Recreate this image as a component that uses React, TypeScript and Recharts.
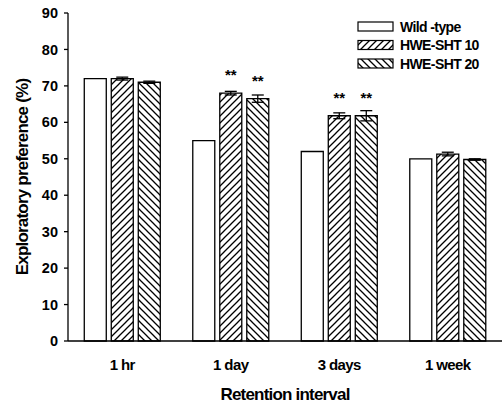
import React from 'react';
import { BarChart, Bar, XAxis, YAxis, ErrorBar, LabelList } from 'recharts';

const categories = ['1 hr', '1 day', '3 days', '1 week'];
const wildType = [72, 55, 52, 50];
const hwe10 = [72, 68, 61.8, 51.3];
const hwe20 = [71, 66.5, 61.8, 49.8];
const hwe10Err = [0.4, 0.5, 0.8, 0.5];
const hwe20Err = [0.3, 1.0, 1.4, 0.2];
const sig10 = ['', '**', '**', ''];
const sig20 = ['', '**', '**', ''];
const yTicks = [0, 10, 20, 30, 40, 50, 60, 70, 80, 90];
const seriesNames = ['Wild -type', 'HWE-SHT 10', 'HWE-SHT 20'];

const data = categories.map((c, i) => ({
  name: c,
  wt: wildType[i],
  h10: hwe10[i],
  h20: hwe20[i],
  h10e: hwe10Err[i],
  h20e: hwe20Err[i],
}));

const FONT = '"Liberation Sans", Arial, sans-serif';

const makeStars = (labels: string[]) => (props: any) => {
  const { x, y, width, index } = props;
  const t = labels[index];
  if (!t) return null;
  return (
    <text x={x + width / 2} y={y - 13} textAnchor="middle" fontFamily={FONT} fontWeight="bold" fontSize={15} fill="#000">
      {t}
    </text>
  );
};

const fills = ['#fff', 'url(#hatchFwd)', 'url(#hatchBack)'];

const LegendBox = () => (
  <svg width={140} height={60} style={{ position: 'absolute', left: 356, top: 19, display: 'block' }}>
    {seriesNames.map((n, i) => (
      <g key={n}>
        <rect x={2} y={3 + i * 18.5} width={35} height={9} fill={fills[i]} stroke="#000" strokeWidth={1.2} />
        <text x={44} y={12.5 + i * 18.5} fontFamily={FONT} fontWeight="bold" fontSize={14} letterSpacing={-0.6} fill="#000">
          {n}
        </text>
      </g>
    ))}
  </svg>
);

export default function App() {
  return (
    <div style={{ position: 'absolute', left: 0, top: 0, width: 504, height: 405, background: '#fff' }}>
      <BarChart
        width={504}
        height={405}
        data={data}
        margin={{ top: 13, right: 2, left: 0, bottom: 0 }}
        barCategoryGap="15%"
        barGap={5}
      >
        <defs>
          <pattern id="hatchFwd" patternUnits="userSpaceOnUse" width={7} height={7}>
            <path d="M-1,1 l2,-2 M0,7 l7,-7 M6,8 l2,-2" stroke="#000" strokeWidth={1.3} />
          </pattern>
          <pattern id="hatchBack" patternUnits="userSpaceOnUse" width={7} height={7}>
            <path d="M-1,6 l2,2 M0,0 l7,7 M6,-1 l2,2" stroke="#000" strokeWidth={1.3} />
          </pattern>
        </defs>
        <XAxis
          dataKey="name"
          height={64}
          tickLine={false}
          axisLine={{ stroke: '#000', strokeWidth: 1.3 }}
          tick={{ fill: '#000', fontFamily: FONT, fontWeight: 'bold', fontSize: 15, letterSpacing: -0.6 }}
          tickMargin={12}
          label={{ value: 'Retention interval', position: 'insideBottom', offset: 5, fill: '#000', fontFamily: FONT, fontWeight: 'bold', fontSize: 17, letterSpacing: -0.8 }}
        />
        <XAxis xAxisId="top" orientation="top" height={0} tick={false} tickLine={false} axisLine={{ stroke: '#000', strokeWidth: 1.3 }} />
        <YAxis
          width={68}
          domain={[0, 90]}
          ticks={yTicks}
          interval={0}
          tickSize={4}
          tickLine={{ stroke: '#000', strokeWidth: 1.3 }}
          axisLine={{ stroke: '#000', strokeWidth: 1.3 }}
          tick={{ fill: '#000', fontFamily: FONT, fontWeight: 'bold', fontSize: 14.5 }}
          tickMargin={6}
          label={{ value: 'Exploratory preference (%)', angle: -90, position: 'insideLeft', offset: 22, style: { textAnchor: 'middle' }, fill: '#000', fontFamily: FONT, fontWeight: 'bold', fontSize: 17, letterSpacing: -0.8 }}
        />
        <YAxis yAxisId="right" orientation="right" width={0} tick={false} tickLine={false} axisLine={{ stroke: '#000', strokeWidth: 1.3 }} />
        <Bar dataKey="wt" name={seriesNames[0]} fill="#fff" stroke="#000" strokeWidth={1.3} isAnimationActive={false} />
        <Bar dataKey="h10" name={seriesNames[1]} fill="url(#hatchFwd)" stroke="#000" strokeWidth={1.3} isAnimationActive={false}>
          <ErrorBar dataKey="h10e" width={6} stroke="#000" strokeWidth={1.3} direction="y" />
          <LabelList dataKey="h10" content={makeStars(sig10)} />
        </Bar>
        <Bar dataKey="h20" name={seriesNames[2]} fill="url(#hatchBack)" stroke="#000" strokeWidth={1.3} isAnimationActive={false}>
          <ErrorBar dataKey="h20e" width={6} stroke="#000" strokeWidth={1.3} direction="y" />
          <LabelList dataKey="h20" content={makeStars(sig20)} />
        </Bar>
      </BarChart>
      <LegendBox />
    </div>
  );
}
